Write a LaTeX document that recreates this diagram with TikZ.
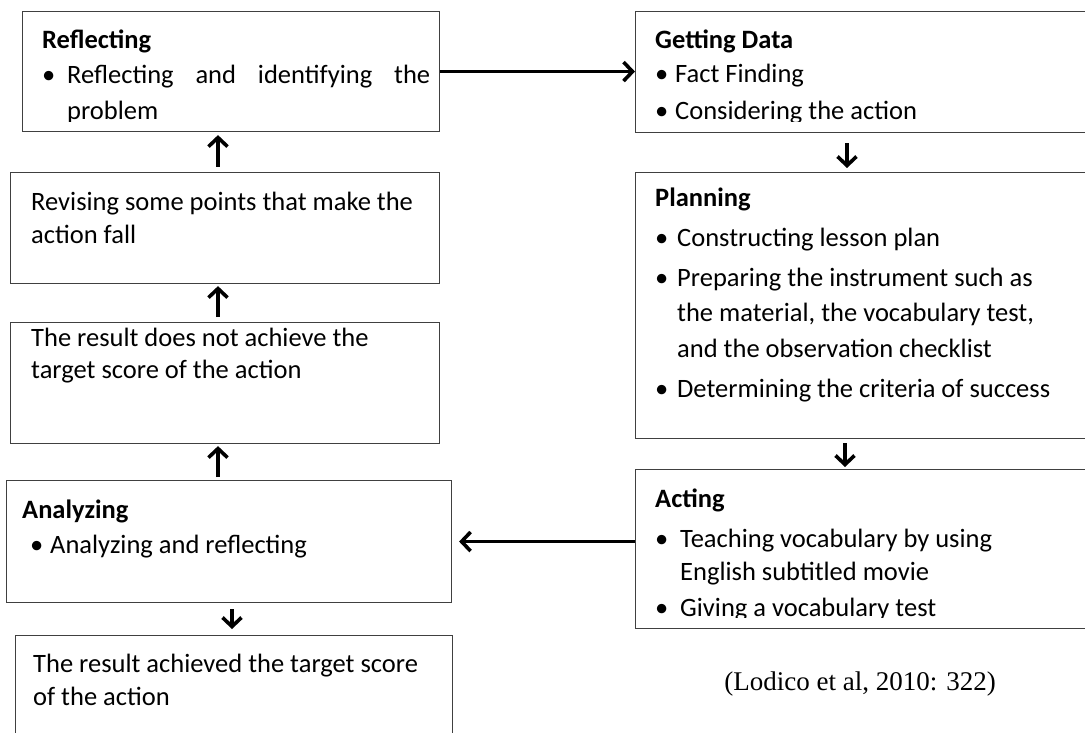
\documentclass[tikz,border=0pt]{standalone}
\usepackage{fontspec}
\setmainfont{Carlito}
\newfontfamily\citefont{Liberation Serif}
\usetikzlibrary{arrows.meta,calc}
\begin{document}
\begin{tikzpicture}[x=1pt,y=-1pt,
  box/.style={draw=black!75, line width=1.1pt, rectangle, inner sep=0pt, anchor=north west},
  txt/.style={anchor=base west, inner sep=0pt, font=\fontsize{26.5}{32}\selectfont},
  ttl/.style={anchor=base west, inner sep=0pt, font=\fontsize{26.5}{32}\selectfont\bfseries},
  arr/.style={line width=3.6pt, -{Straight Barb[length=9pt,width=19pt,line width=3.6pt]}}]
\useasboundingbox (0,0) rectangle (1085,733);
\clip (0,0) rectangle (1085,733);
\newcommand{\bul}[1]{\makebox[#1][l]{\textbullet}}
% boxes
\node[box, minimum width=417pt, minimum height=120pt] (refl) at (22,11) {};
\node[box, minimum width=455pt, minimum height=121pt] (getd) at (635,11) {};
\node[box, minimum width=429pt, minimum height=111pt] (rev) at (10,172) {};
\node[box, minimum width=455pt, minimum height=266pt] (plan) at (635,172) {};
\node[box, minimum width=429pt, minimum height=121pt] (res) at (10,322) {};
\node[box, minimum width=455pt, minimum height=159pt] (act) at (635,469) {};
\node[box, minimum width=445pt, minimum height=122pt] (anl) at (6,480) {};
\node[box, minimum width=437pt, minimum height=110pt] (bot) at (15,635) {};
% Reflecting
\begin{scope}
\clip (22,11) rectangle (439,122);
\node[ttl] (refl-t) at (42,49) {Reflecting};
\node[txt] (refl-1) at (42,84) {\bul{25pt}\makebox[363pt][s]{Reflecting and identifying the}};
\node[txt] (refl-2) at (67,120) {problem};
\end{scope}
% Getting Data
\begin{scope}
\clip (635,11) rectangle (1090,121.5);
\node[ttl] (getd-t) at (655,49) {Getting Data};
\node[txt] (getd-1) at (655,83) {\bul{20pt}Fact Finding};
\node[txt] (getd-2) at (655,120) {\bul{20pt}Considering the action};
\end{scope}
% Revising
\node[txt] (rev-1) at (31,211) {Revising some points that make the};
\node[txt] (rev-2) at (31,243) {action fall};
% Result not achieved
\node[txt] (res-1) at (31,346) {The result does not achieve the};
\node[txt] (res-2) at (31,378) {target score of the action};
% Planning
\node[ttl] (plan-t) at (655,207) {Planning};
\node[txt] (plan-1) at (655,246) {\bul{22pt}Constructing lesson plan};
\node[txt] (plan-2) at (655,286) {\bul{22pt}Preparing the instrument such as};
\node[txt] (plan-3) at (677,321) {the material, the vocabulary test,};
\node[txt] (plan-4) at (677,357) {and the observation checklist};
\node[txt] (plan-5) at (655,397) {\bul{22pt}Determining the criteria of success};
% Acting
\begin{scope}
\clip (635,469) rectangle (1090,617.5);
\node[ttl] (act-t) at (655,507) {Acting};
\node[txt] (act-1) at (655,547) {\bul{25pt}Teaching vocabulary by using};
\node[txt] (act-2) at (680,580) {English subtitled movie};
\node[txt] (act-3) at (655,616) {\bul{25pt}Giving a vocabulary test};
\end{scope}
% Analyzing
\node[ttl] (anl-t) at (22,518) {Analyzing};
\node[txt] (anl-1) at (30,553) {\bul{20pt}Analyzing and reflecting};
% Result achieved
\node[txt] (bot-1) at (33,672) {The result achieved the target score};
\node[txt] (bot-2) at (33,705) {of the action};
% citation
\node[anchor=base, inner sep=0pt, font=\citefont\fontsize{27}{32}\selectfont] (cite) at (860,690) {(Lodico et al, 2010: 322)};
% arrows
\draw[arr] (refl.east) -- (getd.west |- refl.east);
\draw[arr] ([xshift=212pt,yshift=-10pt]getd.south west) -- ([xshift=212pt,yshift=4pt]plan.north west);
\draw[arr] ([xshift=210pt,yshift=-4pt]plan.south west) -- ([xshift=210pt,yshift=2pt]act.north west);
\draw[arr] (act.west |- anl.east) -- ([xshift=7pt]anl.east);
\draw[arr] ([xshift=226pt,yshift=-6pt]anl.south west) -- ([xshift=217pt,yshift=6pt]bot.north west);
\draw[arr] ([xshift=212pt,yshift=3pt]anl.north west) -- ([xshift=208pt,yshift=-2pt]res.south west);
\draw[arr] ([xshift=208pt,yshift=5pt]res.north west) -- ([xshift=208pt,yshift=-2pt]rev.south west);
\draw[arr] ([xshift=208pt,yshift=5pt]rev.north west) -- ([xshift=196pt,yshift=-3pt]refl.south west);
\end{tikzpicture}
\end{document}
